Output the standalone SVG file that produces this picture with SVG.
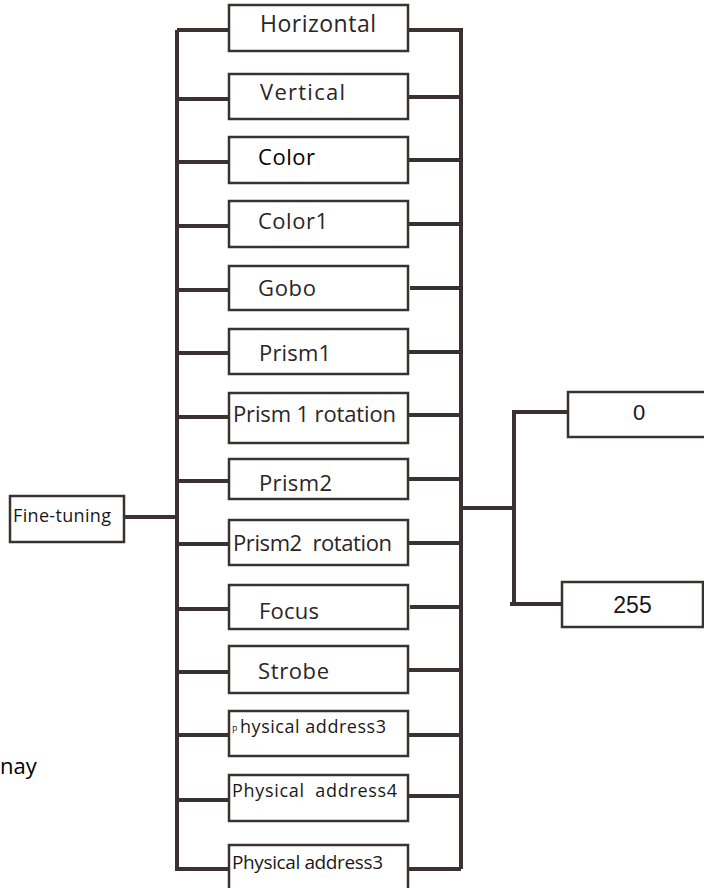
<svg xmlns="http://www.w3.org/2000/svg" width="704" height="888" viewBox="0 0 704 888">
<style>
.box{fill:#fff;stroke:#3a3230;stroke-width:2.5}
.ln{fill:none;stroke:#3a3230;stroke-width:4;stroke-linecap:butt}
.t{font-family:"Open Sans","Liberation Sans",sans-serif;font-size:22px;fill:#2b2526}
.s{font-family:"Open Sans","Liberation Sans",sans-serif;font-size:18px;fill:#1a1718}
.n{font-family:"Liberation Sans",Arial,sans-serif;font-size:22px;fill:#1a1718}
</style>
<rect width="704" height="888" fill="#fff"/>
<g id="connectors">
<path class="ln" d="M177 30V869M461 30V869"/>
<path class="ln" d="M177 30H229M175 99H229M175 162H229M175 226H229M179 290H229M175 353H229M175 417H229M175 481H229M175 544H229M179 609H229M175 672H229M175 735H229M179 800H229M175 869H229"/>
<path class="ln" d="M408 30H463M408 97H461M408 160H461M408 224H461M410 288H463M408 352H461M408 415H461M408 479H461M408 543H461M410 607H463M408 670H461M406 735H461M408 796H461M406 869H461"/>
<path class="ln" d="M124 517H177"/>
<path class="ln" d="M461 508H514M514 410V606M514 412H568M510 604H562"/>
</g>
<g id="n-horizontal"><rect class="box" x="229" y="5" width="179" height="46"/><text class="t" x="260" y="32" style="font-size:23px" textLength="116">Horizontal</text></g>
<g id="n-vertical"><rect class="box" x="229" y="74" width="179" height="45"/><text class="t" x="260" y="100" textLength="85">Vertical</text></g>
<g id="n-color"><rect class="box" x="229" y="137" width="179" height="46"/><text class="t" x="258" y="165" style="fill:#000" textLength="57">Color</text></g>
<g id="n-color1"><rect class="box" x="229" y="201" width="179" height="46"/><text class="t" x="258" y="229" textLength="70">Color1</text></g>
<g id="n-gobo"><rect class="box" x="229" y="266" width="179" height="44"/><text class="t" x="258" y="296" textLength="58">Gobo</text></g>
<g id="n-prism1"><rect class="box" x="229" y="329" width="179" height="45"/><text class="t" x="259" y="361" textLength="72">Prism1</text></g>
<g id="n-prism1rot"><rect class="box" x="229" y="393" width="179" height="50"/><text class="t" x="233" y="422" textLength="163">Prism 1 rotation</text></g>
<g id="n-prism2"><rect class="box" x="229" y="459" width="179" height="40"/><text class="t" x="259" y="491" textLength="73">Prism2</text></g>
<g id="n-prism2rot"><rect class="box" x="229" y="520" width="179" height="45"/><text class="t" x="233" y="551" textLength="159" xml:space="preserve">Prism2  rotation</text></g>
<g id="n-focus"><rect class="box" x="229" y="585" width="179" height="44"/><text class="t" x="259" y="619" textLength="60">Focus</text></g>
<g id="n-strobe"><rect class="box" x="229" y="646" width="179" height="47"/><text class="t" x="258" y="679" textLength="71">Strobe</text></g>
<g id="n-phys3a"><rect class="box" x="229" y="711" width="179" height="45"/><text class="s" x="232" y="733"><tspan style="font-size:9px">P</tspan><tspan x="240" textLength="146">hysical address3</tspan></text></g>
<g id="n-phys4"><rect class="box" x="229" y="775" width="179" height="46"/><text class="s" x="232" y="797" textLength="165" xml:space="preserve">Physical  address4</text></g>
<g id="n-phys3b"><rect class="box" x="229" y="845" width="179" height="50"/><text class="s" x="232" y="869" style="font-size:19px" textLength="151">Physical address3</text></g>
<g id="n-finetuning"><rect class="box" x="10" y="496" width="114" height="46"/><text class="s" x="13" y="522" textLength="98">Fine-tuning</text></g>
<g id="n-0"><rect class="box" x="568" y="392" width="140" height="45"/><text class="n" x="639" y="420" text-anchor="middle">0</text></g>
<g id="n-255"><rect class="box" x="562" y="582" width="141" height="45"/><text class="n" x="632.5" y="613" style="font-size:23px" text-anchor="middle">255</text></g>
<text class="s" x="0" y="774" style="font-size:22px;fill:#000">nay</text>
</svg>
